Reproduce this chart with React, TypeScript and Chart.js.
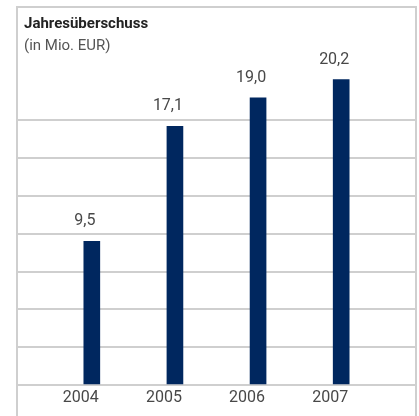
import React, { useEffect, useRef } from "react";
import { Chart, registerables } from "chart.js";

Chart.register(...registerables);

const TITLE = "Jahresüberschuss";
const SUBTITLE = "(in Mio. EUR)";
const YEARS = [2004, 2005, 2006, 2007];
const VALUES = [9.5, 17.1, 19.0, 20.2];
const GRID_MAX = 17.5;
const GRID_STEP = 2.5;
const Y_MAX = 25;

const BAR_COLOR = "#00275f";
const LINE_COLOR = "#cfcfcf";
const TEXT_COLOR = "#484848";
const FONT = "Roboto, 'Noto Sans', sans-serif";

const fmt = (v: number) => v.toFixed(1).replace(".", ",");

const framePlugin = {
  id: "frame",
  beforeDraw(chart: any) {
    const { ctx, chartArea, height } = chart;
    ctx.save();
    ctx.fillStyle = "#ffffff";
    ctx.fillRect(0, 0, chart.width, height);
    ctx.strokeStyle = LINE_COLOR;
    ctx.lineWidth = 2;
    ctx.beginPath();
    ctx.moveTo(chartArea.left, height);
    ctx.lineTo(chartArea.left, chartArea.top);
    ctx.lineTo(chartArea.right, chartArea.top);
    ctx.lineTo(chartArea.right, height);
    ctx.stroke();
    ctx.fillStyle = "#222222";
    ctx.textBaseline = "alphabetic";
    ctx.textAlign = "left";
    ctx.font = `bold 15px ${FONT}`;
    ctx.fillText(TITLE, chartArea.left + 7, chartArea.top + 21);
    ctx.fillStyle = "#555555";
    ctx.font = `15px ${FONT}`;
    ctx.fillText(SUBTITLE, chartArea.left + 7, chartArea.top + 43);
    ctx.restore();
  },
};

const valueLabelPlugin = {
  id: "valueLabels",
  afterDatasetsDraw(chart: any) {
    const { ctx } = chart;
    const meta = chart.getDatasetMeta(0);
    ctx.save();
    ctx.fillStyle = TEXT_COLOR;
    ctx.font = `16px ${FONT}`;
    ctx.textAlign = "center";
    ctx.textBaseline = "middle";
    meta.data.forEach((el: any, i: number) => {
      ctx.fillText(fmt(VALUES[i]), el.x - 7, el.y - 20);
    });
    ctx.restore();
  },
};

export default function App() {
  const ref = useRef<HTMLCanvasElement | null>(null);
  useEffect(() => {
    document.body.style.margin = "0";
    if (!ref.current) return;
    const chart = new Chart(ref.current, {
      type: "bar",
      data: {
        datasets: [
          {
            data: YEARS.map((y, i) => ({ x: y, y: VALUES[i] })),
            backgroundColor: BAR_COLOR,
            barThickness: 16,
            borderWidth: 0,
          },
        ],
      },
      options: {
        animation: false,
        responsive: false,
        maintainAspectRatio: false,
        layout: { padding: { left: 17, top: 7, right: 3, bottom: 0 } },
        plugins: {
          legend: { display: false },
          tooltip: { enabled: false },
          title: { display: false },
        },
        scales: {
          x: {
            type: "linear",
            min: 2003.1,
            max: 2007.9,
            offset: false,
            afterBuildTicks: (scale: any) => {
              scale.ticks = YEARS.map((v) => ({ value: v }));
            },
            afterFit: (scale: any) => {
              scale.height = 31;
            },
            grid: { display: false, drawTicks: false },
            border: { display: false },
            ticks: {
              autoSkip: false,
              maxRotation: 0,
              padding: 3,
              labelOffset: -11,
              color: TEXT_COLOR,
              font: { family: FONT, size: 16 },
              callback: (v: any) => String(v),
            },
          },
          y: {
            min: 0,
            max: Y_MAX,
            afterFit: (scale: any) => {
              scale.width = 0;
            },
            ticks: { display: false, stepSize: GRID_STEP },
            border: { display: false },
            grid: {
              drawTicks: false,
              lineWidth: 2,
              color: (c: any) =>
                c.tick && c.tick.value <= GRID_MAX ? LINE_COLOR : "rgba(0,0,0,0)",
            },
          },
        },
      },
      plugins: [framePlugin, valueLabelPlugin],
    });
    return () => chart.destroy();
  }, []);
  return <canvas ref={ref} width={419} height={416} style={{ display: "block" }} />;
}
